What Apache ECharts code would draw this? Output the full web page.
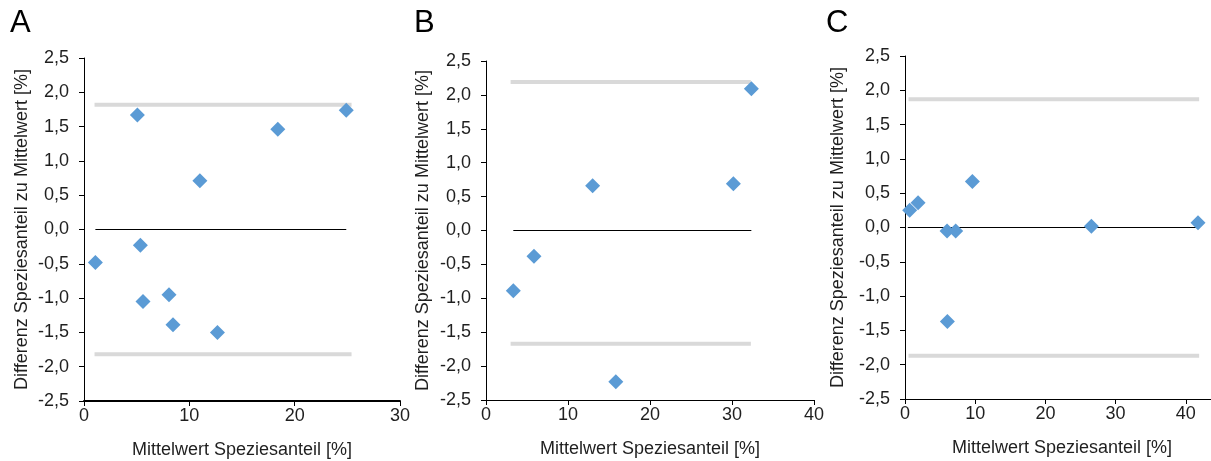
<!DOCTYPE html>
<html>
<head>
<meta charset="utf-8">
<script src="https://cdn.jsdelivr.net/npm/echarts@6/dist/echarts.min.js"></script>
<style>
  html, body { margin: 0; padding: 0; background: #fff; }
  #chart { width: 1211px; height: 461px; }
</style>
</head>
<body>
<div id="chart"></div>
<script>
// Bland-Altman style panels: mean species share vs. difference to mean
const panelLetters = ['A', 'B', 'C'];
const xTitle = 'Mittelwert Speziesanteil [%]';
const yTitle = 'Differenz Speziesanteil zu Mittelwert [%]';

// Panel A
const aMean = [5.07, 18.4, 24.9, 11.0, 5.35, 1.08, 5.6, 8.07, 8.45, 12.67];
const aDiff = [1.67, 1.46, 1.74, 0.71, -0.23, -0.48, -1.05, -0.95, -1.39, -1.50];
const aLimits = [1.82, -1.82];
const aLimitSpan = [1.0, 25.4];
const aZeroSpan = [1.08, 24.9];
const aXMax = 30;

// Panel B
const bMean = [32.36, 30.17, 13.0, 5.85, 3.33, 15.83];
const bDiff = [2.09, 0.69, 0.66, -0.38, -0.89, -2.23];
const bLimits = [2.19, -1.67];
const bLimitSpan = [3.0, 32.3];
const bZeroSpan = [3.33, 32.36];
const bXMax = 40;

// Panel C
const cMean = [0.67, 1.86, 9.6, 5.99, 7.22, 26.55, 41.74, 6.04];
const cDiff = [0.25, 0.36, 0.67, -0.05, -0.05, 0.02, 0.07, -1.37];
const cLimits = [1.87, -1.87];
const cLimitSpan = [0.5, 41.9];
const cZeroSpan = [0.4, 41.74];
const cXMax = 50;

const yMin = -2.5, yMax = 2.5, yStep = 0.5;

const FONT = '"Liberation Sans", Arial, sans-serif';
const TEXT = '#1f1f1f';
const FS = 18;

const panels = [
  { mean: aMean, diff: aDiff, limits: aLimits, limitSpan: aLimitSpan, zeroSpan: aZeroSpan, xMax: aXMax,
    grid: { left: 84, top: 58, width: 316, height: 343 }, xLineWidth: 2, yNameGap: 53, xNamePad: 0 },
  { mean: bMean, diff: bDiff, limits: bLimits, limitSpan: bLimitSpan, zeroSpan: bZeroSpan, xMax: bXMax,
    grid: { left: 486, top: 61, width: 328, height: 339 }, xLineWidth: 1, yNameGap: 54, xNamePad: 0 },
  { mean: cMean, diff: cDiff, limits: cLimits, limitSpan: cLimitSpan, zeroSpan: cZeroSpan, xMax: cXMax,
    grid: { left: 905, top: 56, width: 351, height: 343 }, xLineWidth: 1, yNameGap: 58, xNamePad: 37 }
];

const grids = [], xAxes = [], yAxes = [], series = [], graphics = [];
const letterX = [10, 414, 826];

panels.forEach((p, i) => {
  grids.push(Object.assign({ outerBoundsMode: 'none', containLabel: false }, p.grid));
  xAxes.push({
    type: 'value', gridIndex: i, min: 0, max: p.xMax, interval: 10,
    name: xTitle, nameLocation: 'middle', nameGap: 40,
    nameTextStyle: { fontFamily: FONT, fontSize: FS, color: TEXT, padding: [0, p.xNamePad, 0, 0] },
    axisLine: { show: true, onZero: false, lineStyle: { color: '#000', width: p.xLineWidth } },
    axisTick: { show: true, inside: false, length: 5, lineStyle: { color: '#000' } },
    axisLabel: { fontFamily: FONT, fontSize: FS, color: TEXT, margin: 6 },
    splitLine: { show: false }
  });
  yAxes.push({
    type: 'value', gridIndex: i, min: yMin, max: yMax, interval: yStep,
    name: yTitle, nameLocation: 'middle', nameGap: p.yNameGap, nameRotate: 90,
    nameTextStyle: { fontFamily: FONT, fontSize: FS, color: TEXT },
    axisLine: { show: true, onZero: false, lineStyle: { color: '#000', width: 1 } },
    axisTick: { show: true, inside: false, length: 5, lineStyle: { color: '#000' } },
    axisLabel: {
      fontFamily: FONT, fontSize: FS, color: TEXT, margin: 15,
      formatter: v => v.toFixed(1).replace('.', ',')
    },
    splitLine: { show: false }
  });
  // limits of agreement (grey)
  p.limits.forEach(lim => {
    series.push({
      type: 'line', xAxisIndex: i, yAxisIndex: i, symbol: 'none', silent: true, z: 1,
      lineStyle: { color: '#D9D9D9', width: 4 },
      data: [[p.limitSpan[0], lim], [p.limitSpan[1], lim]]
    });
  });
  // zero line
  series.push({
    type: 'line', xAxisIndex: i, yAxisIndex: i, symbol: 'none', silent: true, z: 2,
    lineStyle: { color: '#000', width: 1 },
    data: [[p.zeroSpan[0], 0], [p.zeroSpan[1], 0]]
  });
  // differences
  series.push({
    type: 'scatter', xAxisIndex: i, yAxisIndex: i, z: 3,
    symbol: 'diamond', symbolSize: [15, 15],
    itemStyle: { color: '#5B9BD5', opacity: 1 },
    data: p.mean.map((m, k) => [m, p.diff[k]])
  });
  graphics.push({
    type: 'text', left: letterX[i], top: 8,
    style: { text: panelLetters[i], font: '31px ' + FONT, fill: '#000' }
  });
});

const chart = echarts.init(document.getElementById('chart'), null, { renderer: 'canvas' });
chart.setOption({
  animation: false,
  backgroundColor: '#fff',
  grid: grids,
  xAxis: xAxes,
  yAxis: yAxes,
  series: series,
  graphic: graphics
});
</script>
</body>
</html>
